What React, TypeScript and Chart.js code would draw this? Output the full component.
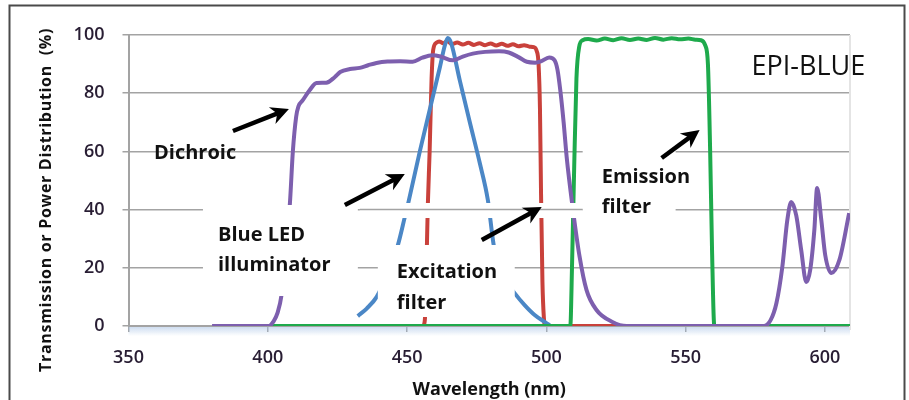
import React, { useEffect, useRef } from 'react';
import { Chart, registerables } from 'chart.js';

Chart.register(...registerables);

// ---- axis ticks ----
const xTicks = [350, 400, 450, 500, 550, 600];
const yTicks = [0, 20, 40, 60, 80, 100];

// ---- Dichroic (purple) ----
const dichroicNm = [380, 400.4, 402, 403.5, 405, 406.5, 408, 409, 410.2, 411, 412.5, 415, 417.5, 421, 424, 426, 429.5, 433, 436, 439, 443, 447.5, 452, 455.5, 459, 462, 466.4, 470, 473.6, 478, 483, 486.5, 490, 493, 496, 498, 501, 503, 504, 505, 506.2, 507.3, 509.4, 511.9, 514.4, 518, 523.7, 528.8, 578, 580.5, 582.6, 584.7, 586.5, 587.9, 589.7, 591.5, 593.3, 594.7, 596.2, 597.2, 598.7, 600.1, 602.3, 605.2, 608.7];
const dichroicPct = [0, 0, 1.5, 4.5, 11, 25, 43, 60, 72, 75.5, 77.5, 81, 83.5, 83.6, 85.5, 87.3, 88.3, 88.7, 89.6, 90.4, 90.9, 91, 90.8, 92.2, 93, 92.6, 91.3, 92.6, 93.6, 94.2, 94.4, 94, 92.4, 90.8, 90.5, 90.9, 92.3, 91.2, 88, 81, 70, 58, 41, 24, 12.4, 5.5, 1.4, 0, 0, 2, 7.9, 20.3, 36.4, 42.6, 38, 26, 15.1, 19.2, 33, 47.4, 36.4, 24.4, 18.2, 22.7, 38.8];

// ---- Blue LED illuminator (blue) ----
const ledNm = [432.3, 435.5, 439.1, 443, 446.7, 449.2, 450.6, 454.6, 458.2, 461.8, 463.5, 464.6, 465.8, 468.9, 472.5, 476.1, 479, 481.1, 484.5, 488.6, 492.2, 495.8, 499.4, 501.2];
const ledPct = [3.4, 6, 10, 18, 27.8, 37.5, 43, 60.1, 74.6, 89, 96.2, 99, 97.3, 84.5, 70.1, 56, 43.3, 27.8, 17, 11.3, 7.2, 3.8, 1.4, 0.3];

// ---- Excitation filter (red) ----
const excitationNm = [456, 456.5, 457.5, 458.1, 458.8, 459.4, 460.5, 461.5, 463, 464.5, 466, 468, 470, 472, 474, 476, 478, 480, 482, 484, 486, 488, 490, 492, 494, 495.5, 496.5, 497.2, 497.7, 498.1, 498.6, 499.1, 499.6, 609];
const excitationPct = [0, 4, 43, 60, 85, 95, 97.3, 97.8, 97.2, 97.9, 96.9, 97.4, 96.7, 97.3, 96.6, 97.2, 96.5, 97.1, 96.4, 97.0, 96.3, 96.8, 96.1, 96.5, 96.0, 95.8, 94.6, 90, 75, 45, 15, 3, 0, 0];

// ---- Emission filter (green) ----
const emissionNm = [400, 508.6, 509.2, 510, 510.8, 511.8, 513, 515, 518, 521, 524, 527, 530, 533, 536, 539, 542, 545, 548, 551, 553.5, 555.5, 557, 558, 558.8, 559.5, 560.3, 609];
const emissionPct = [0, 0, 20, 55, 85, 96, 98.2, 98.6, 98.1, 98.8, 98.2, 98.9, 98.3, 98.8, 98.3, 99.0, 98.4, 98.9, 98.5, 98.8, 98.4, 98.2, 96.5, 90, 60, 25, 0, 0];

const FONT = '"Open Sans", "DejaVu Sans", sans-serif';
const GRID = '#a3a3a3';
const TICK_TXT = '#281d33';

export default function App() {
  const ref = useRef<HTMLCanvasElement>(null);

  useEffect(() => {
    const canvas = ref.current;
    if (!canvas) return;
    const zip = (xs: number[], ys: number[]) => xs.map((x, i) => ({ x, y: ys[i] }));

    const arrow = (ctx: CanvasRenderingContext2D, x0: number, y0: number, x1: number, y1: number) => {
      const dx = x1 - x0, dy = y1 - y0;
      const len = Math.hypot(dx, dy);
      const ux = dx / len, uy = dy / len;
      const px = -uy, py = ux;
      const L = 18, W = 9;
      ctx.strokeStyle = '#000';
      ctx.lineWidth = 4.5;
      ctx.lineCap = 'butt';
      ctx.beginPath();
      ctx.moveTo(x0, y0);
      ctx.lineTo(x1 - ux * L * 0.6, y1 - uy * L * 0.6);
      ctx.stroke();
      ctx.fillStyle = '#000';
      ctx.beginPath();
      ctx.moveTo(x1, y1);
      ctx.lineTo(x1 - ux * L + px * W, y1 - uy * L + py * W);
      ctx.lineTo(x1 - ux * L * 0.7, y1 - uy * L * 0.7);
      ctx.lineTo(x1 - ux * L - px * W, y1 - uy * L - py * W);
      ctx.closePath();
      ctx.fill();
    };

    const overlay = {
      id: 'overlay',
      beforeDatasetsDraw(chart: any) {
        const { ctx, chartArea } = chart;
        const y0 = chart.scales.y.getPixelForValue(0);
        ctx.save();
        const g = ctx.createLinearGradient(0, y0, 0, y0 + 10);
        g.addColorStop(0, 'rgba(165,192,228,0.6)');
        g.addColorStop(1, 'rgba(165,192,228,0)');
        ctx.fillStyle = g;
        ctx.fillRect(chartArea.left, y0 + 1, chartArea.right - chartArea.left, 10);
        ctx.strokeStyle = '#e4e4e4';
        ctx.lineWidth = 2;
        ctx.beginPath();
        ctx.moveTo(chartArea.right, chartArea.top);
        ctx.lineTo(chartArea.right, y0 + 4);
        ctx.stroke();
        ctx.restore();
      },
      afterDatasetsDraw(chart: any) {
        const { ctx } = chart;
        const X = (v: number) => chart.scales.x.getPixelForValue(v);
        const Y = (v: number) => chart.scales.y.getPixelForValue(v);
        ctx.save();
        // label backgrounds
        const boxes = [
          [376.73, 432.33, 41.58, 10.31],
          [439.5, 488.65, 27.84, 3.09],
          [513.04, 546.4, 63.92, 35.74],
          [433.05, 513.04, 42.27, 37.11],
        ];
        ctx.fillStyle = '#fff';
        boxes.forEach(([a, b, c, d]) => {
          ctx.fillRect(X(a), Y(c), X(b) - X(a), Y(d) - Y(c));
        });
        // restore the 40% gridline through the strip
        ctx.strokeStyle = GRID;
        ctx.lineWidth = 1.5;
        ctx.beginPath();
        ctx.moveTo(X(433.05), Y(40));
        ctx.lineTo(X(513.04), Y(40));
        ctx.stroke();

        // labels
        ctx.fillStyle = '#111';
        ctx.textAlign = 'left';
        ctx.textBaseline = 'middle';
        ctx.font = `bold 20px ${FONT}`;
        const texts: [string, number, number][] = [
          ['Dichroic', 359.15, 59.45],
          ['Blue LED', 382.11, 31.27],
          ['illuminator', 382.11, 20.96],
          ['Excitation', 446.32, 18.56],
          ['filter', 446.32, 7.9],
          ['Emission', 519.86, 51.2],
          ['filter', 519.86, 40.89],
        ];
        texts.forEach(([t, x, y]) => ctx.fillText(t, X(x), Y(y)));
        ctx.font = `27px ${FONT}`;
        ctx.fillText('EPI-BLUE', X(573.67), Y(89));

        // arrows
        const arrows = [
          [387.49, 67.01, 407.58, 74.57],
          [427.66, 41.58, 449.19, 52.23],
          [476.81, 29.55, 498.34, 40.89],
          [541.39, 57.73, 555.02, 67.35],
        ];
        arrows.forEach(([a, b, c, d]) => arrow(ctx, X(a), Y(b), X(c), Y(d)));
        ctx.restore();
      },
      afterDraw(chart: any) {
        const { ctx, chartArea } = chart;
        ctx.save();
        ctx.fillStyle = '#111';
        ctx.textAlign = 'center';
        ctx.textBaseline = 'middle';
        ctx.font = `bold 18px ${FONT}`;
        ctx.fillText('Wavelength (nm)', (chartArea.left + chartArea.right) / 2, 390);
        ctx.translate(46, chart.height / 2);
        ctx.rotate(-Math.PI / 2);
        ctx.font = `bold 16px ${FONT}`;
        (ctx as any).letterSpacing = '0.7px';
        ctx.fillText('Transmission or Power Distribution  (%)', 0, 0);
        ctx.restore();
        ctx.save();
        ctx.strokeStyle = '#4a4a4a';
        ctx.lineWidth = 2;
        ctx.strokeRect(9.5, 5.5, 895, 420);
        ctx.restore();
      },
    };

    const chart = new Chart(canvas, {
      type: 'line',
      data: {
        datasets: [
          { label: 'Dichroic', data: zip(dichroicNm, dichroicPct), borderColor: '#7d5fae' },
          { label: 'Emission filter', data: zip(emissionNm, emissionPct), borderColor: '#1eaa4c' },
          { label: 'Blue LED illuminator', data: zip(ledNm, ledPct), borderColor: '#4b87c6' },
          { label: 'Excitation filter', data: zip(excitationNm, excitationPct), borderColor: '#c9413b' },
        ].map((d) => ({
          ...d,
          borderWidth: 4,
          pointRadius: 0,
          fill: false,
          cubicInterpolationMode: 'monotone' as const,
        })),
      },
      options: {
        animation: false,
        responsive: false,
        layout: { padding: { left: 0, top: 35, right: 59, bottom: 0 } },
        plugins: { legend: { display: false }, tooltip: { enabled: false } },
        scales: {
          x: {
            type: 'linear',
            min: 350,
            max: 609,
            afterBuildTicks: (s: any) => { s.ticks = xTicks.map((v) => ({ value: v })); },
            afterFit: (s: any) => { s.height = 74; },
            ticks: { font: { family: FONT, size: 18, weight: '600' }, color: TICK_TXT, padding: 15, maxRotation: 0 },
            grid: { display: true, drawOnChartArea: false, drawTicks: true, tickLength: 6, color: GRID, lineWidth: 1.5 },
            border: { display: true, color: GRID, width: 2 },
          },
          y: {
            min: 0,
            max: 100,
            afterBuildTicks: (s: any) => { s.ticks = yTicks.map((v) => ({ value: v })); },
            afterFit: (s: any) => { s.width = 128.5; },
            ticks: { font: { family: FONT, size: 18, weight: '600' }, color: TICK_TXT, padding: 18 },
            grid: { color: GRID, lineWidth: 1.5, tickLength: 6 },
            border: { display: true, color: GRID, width: 2 },
          },
        },
      },
      plugins: [overlay],
    } as any);

    return () => chart.destroy();
  }, []);

  return (
    <div style={{ position: 'fixed', left: 0, top: 0, width: 909, height: 400, background: '#fff' }}>
      <canvas ref={ref} width={909} height={400} style={{ display: 'block', width: 909, height: 400 }} />
    </div>
  );
}
